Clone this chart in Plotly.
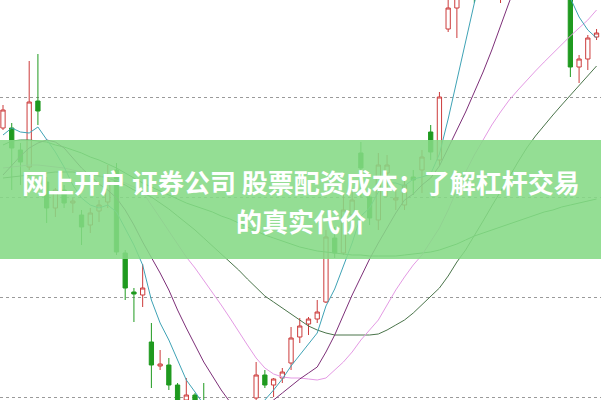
import plotly.graph_objects as go

idx = list(range(69))

open_ = [12.69, 12.69, 12.47, 12.30, 12.96, 12.15, 11.89, 12.07, 11.94, 11.82,
         11.72, 11.86, 11.95, 12.27, 11.44, 11.05, 11.02, 10.55, 10.31, 10.32,
         10.12, 9.97, 10.02, 9.92, 9.72, 9.62, 9.69, 9.57, 9.67, 9.99,
         10.22, 10.12, 10.19, 10.34, 10.60, 10.73, 10.78, 10.95, 11.59, 11.44,
         11.82, 12.44, 12.00, 11.77, 12.24, 11.97, 11.92, 12.20, 12.27, 12.65,
         12.37, 13.68, 13.89, 14.12, 14.47, 14.32, 14.77, 14.57, 14.97, 15.27,
         15.07, 15.47, 15.67, 15.37, 14.97, 14.37, 13.30, 13.38, 13.60]
high = [12.92, 12.74, 12.54, 13.36, 13.43, 12.20, 12.09, 12.12, 11.99, 11.87,
        11.89, 11.97, 12.32, 12.34, 11.47, 11.09, 11.33, 10.74, 10.47, 10.39,
        10.14, 10.19, 10.04, 10.14, 9.77, 9.75, 9.72, 9.69, 9.87, 10.35,
        10.27, 10.19, 10.29, 10.70, 10.79, 10.80, 10.97, 11.67, 11.70, 12.02,
        12.07, 12.55, 12.07, 12.44, 12.42, 12.07, 12.17, 12.27, 12.47, 12.72,
        13.05, 14.02, 14.19, 14.57, 14.57, 14.87, 15.17, 15.07, 15.37, 15.37,
        15.52, 15.72, 15.77, 15.47, 15.07, 14.47, 13.42, 13.62, 13.68]
low = [12.67, 12.07, 12.12, 12.27, 12.72, 11.74, 11.80, 11.89, 11.84, 11.52,
       11.64, 11.75, 11.89, 11.42, 10.97, 10.75, 10.90, 10.09, 10.27, 10.07,
       9.87, 9.92, 9.77, 9.57, 9.52, 9.47, 9.42, 9.47, 9.57, 9.95,
       10.09, 10.00, 10.14, 10.27, 10.54, 10.62, 10.74, 10.94, 11.39, 11.42,
       11.77, 12.00, 11.72, 11.67, 12.00, 11.87, 11.87, 12.02, 12.04, 12.37,
       12.32, 13.65, 13.59, 14.07, 13.94, 14.27, 14.67, 13.94, 14.92, 14.97,
       15.02, 15.37, 15.27, 14.87, 14.52, 13.20, 13.14, 13.27, 13.57]
close = [12.87, 12.49, 12.35, 12.95, 12.86, 11.89, 12.07, 11.94, 11.96, 11.70,
         11.84, 11.92, 12.16, 11.45, 11.09, 11.03, 11.09, 10.32, 10.33, 10.12,
         9.92, 10.02, 9.87, 9.67, 9.62, 9.69, 9.57, 9.67, 9.82, 10.22,
         10.12, 10.18, 10.25, 10.59, 10.71, 10.78, 10.85, 11.60, 11.44, 11.87,
         11.97, 12.29, 11.79, 12.32, 12.32, 11.99, 12.12, 12.17, 12.40, 12.45,
         13.00, 13.89, 14.12, 14.47, 14.27, 14.77, 15.07, 14.97, 15.27, 15.07,
         15.47, 15.67, 15.37, 14.97, 14.57, 13.30, 13.38, 13.59, 13.64]

ma5 = [12.62, 12.69, 12.65, 12.64, 12.70, 12.57, 12.45, 12.30, 12.12, 11.99,
       11.92, 11.89, 11.92, 11.85, 11.69, 11.52, 11.32, 10.97, 10.74, 10.57,
       10.37, 10.17, 10.05, 9.92, 9.80, 9.72, 9.67, 9.65, 9.69, 9.79,
       9.97, 10.07, 10.18, 10.31, 10.42, 10.53, 10.64, 10.91, 11.08, 11.31,
       11.54, 11.81, 11.89, 12.05, 12.14, 12.14, 12.11, 12.18, 12.20, 12.23,
       12.43, 12.78, 13.17, 13.57, 13.94, 14.27, 14.57, 14.82, 15.02, 15.12,
       15.22, 15.27, 15.22, 14.97, 14.47, 13.99, 13.80, 13.67, 13.59]
ma10 = [12.22, 12.32, 12.41, 12.49, 12.54, 12.57, 12.55, 12.49, 12.39, 12.29,
        12.21, 12.13, 12.07, 11.99, 11.87, 11.72, 11.55, 11.40, 11.24, 11.07,
        10.87, 10.69, 10.52, 10.35, 10.21, 10.07, 9.95, 9.87, 9.83, 9.85,
        9.91, 9.97, 10.04, 10.11, 10.18, 10.24, 10.30, 10.45, 10.62, 10.82,
        11.02, 11.20, 11.38, 11.54, 11.69, 11.84, 11.97, 12.03, 12.12, 12.19,
        12.31, 12.49, 12.67, 12.85, 13.05, 13.25, 13.47, 13.72, 13.95, 14.17,
        14.37, 14.52, 14.62, 14.67, 14.67, 14.62, 14.52, 14.42, 14.32]
ma20 = [12.29, 12.30, 12.31, 12.32, 12.32, 12.31, 12.30, 12.29, 12.27, 12.25,
        12.23, 12.21, 12.19, 12.17, 12.14, 12.10, 12.05, 11.92, 11.79, 11.65,
        11.52, 11.40, 11.29, 11.17, 11.05, 10.92, 10.79, 10.65, 10.52, 10.39,
        10.29, 10.23, 10.20, 10.19, 10.19, 10.18, 10.17, 10.19, 10.27, 10.35,
        10.45, 10.57, 10.67, 10.77, 10.92, 11.07, 11.20, 11.32, 11.42, 11.55,
        11.69, 11.87, 12.07, 12.25, 12.42, 12.57, 12.72, 12.85, 12.97, 13.07,
        13.17, 13.26, 13.35, 13.44, 13.52, 13.61, 13.69, 13.77, 13.87]
ma30 = [12.19, 12.20, 12.21, 12.22, 12.23, 12.24, 12.25, 12.25, 12.25, 12.24,
        12.23, 12.21, 12.19, 12.16, 12.12, 12.07, 12.04, 12.00, 11.94, 11.88,
        11.81, 11.74, 11.67, 11.59, 11.51, 11.44, 11.36, 11.27, 11.18, 11.09,
        11.01, 10.95, 10.89, 10.83, 10.77, 10.71, 10.67, 10.64, 10.62, 10.62,
        10.62, 10.62, 10.62, 10.63, 10.67, 10.72, 10.77, 10.84, 10.92, 11.00,
        11.09, 11.21, 11.35, 11.47, 11.61, 11.76, 11.91, 12.05, 12.20, 12.35,
        12.49, 12.61, 12.72, 12.82, 12.92, 13.02, 13.12, 13.22, 13.31]
ma60 = [12.52, 12.56, 12.57, 12.57, 12.56, 12.55, 12.52, 12.50, 12.47, 12.44,
        12.40, 12.37, 12.33, 12.29, 12.24, 12.19, 12.14, 12.10, 12.06, 12.02,
        11.98, 11.94, 11.91, 11.88, 11.85, 11.81, 11.78, 11.74, 11.70, 11.66,
        11.62, 11.59, 11.56, 11.53, 11.50, 11.48, 11.46, 11.45, 11.44, 11.43,
        11.42, 11.42, 11.41, 11.41, 11.41, 11.41, 11.42, 11.43, 11.44, 11.45,
        11.47, 11.50, 11.53, 11.57, 11.61, 11.64, 11.67, 11.70, 11.73, 11.76,
        11.79, 11.82, 11.85, 11.87, 11.90, 11.92, 11.94, 11.96, 11.98]

grid_levels = [10, 11, 12, 13]
title_line1 = "网上开户 证券公司 股票配资成本：了解杠杆交易"
title_line2 = "的真实代价"

fig = go.Figure()
fig.add_trace(go.Candlestick(
    x=idx, open=open_, high=high, low=low, close=close,
    increasing=dict(line=dict(color="#cc3b3b", width=1), fillcolor="#ffffff"),
    decreasing=dict(line=dict(color="#1f9a1f", width=1), fillcolor="#1f9a1f"),
    whiskerwidth=0, showlegend=False, hoverinfo="skip",
))

lines = [
    (ma60, "#3a8f45"),
    (ma30, "#4a744a"),
    (ma20, "#e49ae4"),
    (ma10, "#7d2f78"),
    (ma5, "#3fa3b6"),
]
for vals, col in lines:
    fig.add_trace(go.Scatter(x=idx, y=vals, mode="lines",
                             line=dict(color=col, width=1),
                             showlegend=False, hoverinfo="skip"))

fig.update_layout(
    width=601, height=400,
    margin=dict(l=0, r=0, t=0, b=0),
    paper_bgcolor="white", plot_bgcolor="white",
    hovermode=False,
    xaxis=dict(range=[-0.344, 68.51], visible=False, rangeslider=dict(visible=False),
               showgrid=False, fixedrange=True),
    yaxis=dict(range=[9.97, 13.97], tickvals=grid_levels, showticklabels=False,
               showgrid=True, gridcolor="#9a9a9a", gridwidth=1, griddash="dot",
               zeroline=False, showline=False, ticks="", fixedrange=True),
    shapes=[dict(type="rect", xref="paper", yref="paper",
                 x0=0, x1=1, y0=(400 - 259) / 400, y1=(400 - 140) / 400,
                 fillcolor="rgba(133,218,133,0.88)", line=dict(width=0),
                 layer="above")],
    annotations=[
        dict(text="<b>" + title_line1 + "</b>", xref="paper", yref="paper",
             x=0.5, y=(400 - 182) / 400, xanchor="center", yanchor="middle",
             showarrow=False,
             font=dict(family="Noto Sans CJK SC", size=26, color="white")),
        dict(text="<b>" + title_line2 + "</b>", xref="paper", yref="paper",
             x=0.5, y=(400 - 220) / 400, xanchor="center", yanchor="middle",
             showarrow=False,
             font=dict(family="Noto Sans CJK SC", size=26, color="white")),
    ],
)

fig.write_html("out.html",
               config={"displayModeBar": False, "staticPlot": True},
               post_script="document.body.style.margin='0';document.body.style.padding='0';document.body.style.overflow='hidden';")
